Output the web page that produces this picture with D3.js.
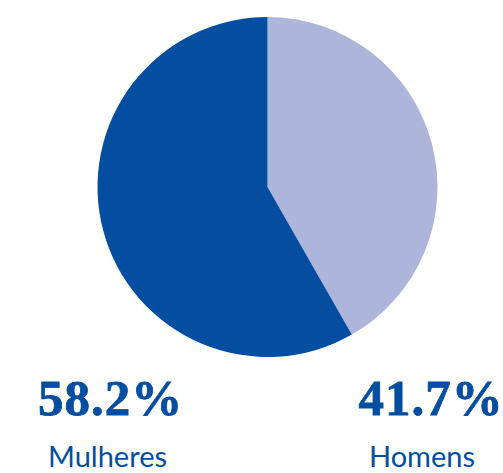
<!DOCTYPE html>
<html>
<head>
<meta charset="utf-8">
<script src="https://cdn.jsdelivr.net/npm/d3@7"></script>
<style>
  body { margin: 0; background: #fff; }
</style>
</head>
<body>
<svg></svg>
<script>
let categories = ['Homens', 'Mulheres']
let values = [41.7, 58.2]
let labels = ['41.7%', '58.2%']
let colors = ['#aeb5da', '#044ea1']

let width = 503
let height = 473
let cx = 267.5
let cy = 187
let radius = 170

let svg = d3.select('svg')
    .attr('width', width)
    .attr('height', height)

let pie = d3.pie().sort(null).value(d => d)
let arc = d3.arc().innerRadius(0).outerRadius(radius)

// slices, clockwise from the top
svg.append('g')
    .attr('transform', 'translate(' + cx + ',' + cy + ')')
    .selectAll('path')
    .data(pie(values))
    .enter()
    .append('path')
    .attr('d', arc)
    .attr('fill', (d, i) => colors[i])

// labels under the pie
let labelX = d3.scaleOrdinal().domain(['Mulheres', 'Homens']).range([107.5, 428])

let groups = svg.selectAll('.label')
    .data(categories)
    .enter()
    .append('g')
    .attr('class', 'label')
    .attr('transform', d => 'translate(' + labelX(d) + ',0)')

groups.append('text')
    .attr('x', 3)
    .attr('y', 415)
    .attr('text-anchor', 'middle')
    .attr('fill', '#044ea1')
    .attr('stroke', '#044ea1')
    .attr('stroke-width', 0.8)
    .style('font-family', '"Liberation Serif", serif')
    .style('font-weight', 'bold')
    .style('font-size', '51px')
    .style('letter-spacing', '1px')
    .text((d, i) => labels[i])

groups.append('text')
    .attr('x', d => d === 'Homens' ? -6 : 0)
    .attr('y', 467)
    .attr('text-anchor', 'middle')
    .attr('fill', '#044ea1')
    .style('font-family', 'Lato, sans-serif')
    .style('font-size', '29px')
    .text(d => d)
</script>
</body>
</html>
